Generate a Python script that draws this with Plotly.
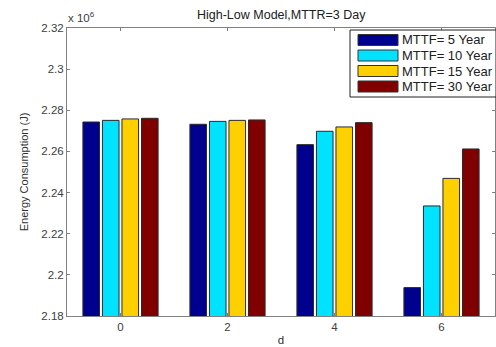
import plotly.graph_objects as go

categories = [0, 2, 4, 6]
series_names = ["MTTF= 5 Year", "MTTF= 10 Year", "MTTF= 15 Year", "MTTF= 30 Year"]
mttf5 = [2.2743, 2.2732, 2.2633, 2.1938]
mttf10 = [2.2751, 2.2746, 2.2698, 2.2335]
mttf15 = [2.2758, 2.2751, 2.2719, 2.2469]
mttf30 = [2.2761, 2.2753, 2.2740, 2.2612]
series_values = [mttf5, mttf10, mttf15, mttf30]
colors = ["#00008F", "#00E2FF", "#FFD000", "#800000"]
y_ticks = [2.18, 2.2, 2.22, 2.24, 2.26, 2.28, 2.3, 2.32]
y_ticktext = ["2.18", "2.2", "2.22", "2.24", "2.26", "2.28", "2.3", "2.32"]
x_ticks = [0, 2, 4, 6]

W, H = 496, 347
L, R, T, B = 67, 1, 28, 31
pw, ph = W - L - R, H - T - B

def px_x(p):
    return (p - L) / pw

def px_y(p):
    return (H - B - p) / ph

fig = go.Figure()
for name, vals, col in zip(series_names, series_values, colors):
    fig.add_trace(go.Bar(
        x=categories, y=vals, name=name,
        marker=dict(color=col, line=dict(color="#2a2a2a", width=1)),
        showlegend=False,
    ))

font = "Liberation Sans, Arial, sans-serif"
axis_common = dict(
    showline=True, linecolor="#808080", linewidth=1, mirror="ticks",
    ticks="inside", ticklen=3, tickcolor="#808080", showgrid=False,
    zeroline=False, tickfont=dict(family=font, size=11.5, color="#404040"),
)

fig.update_layout(
    width=W, height=H,
    margin=dict(l=L, r=R, t=T, b=B),
    paper_bgcolor="white", plot_bgcolor="white",
    barmode="group", bargap=0.27, bargroupgap=0.15,
    font=dict(family=font, size=11, color="#202020"),
    xaxis=dict(range=[-1, 7], tickvals=x_ticks, ticktext=[str(v) for v in x_ticks],
               title=dict(text="d", font=dict(size=11.5, color="#303030"), standoff=4),
               **axis_common),
    yaxis=dict(range=[2.18, 2.32], tickvals=y_ticks, ticktext=y_ticktext,
               title=dict(text="Energy Consumption (J)", font=dict(size=11, color="#303030"), standoff=10),
               **axis_common),
    showlegend=False,
)

# title
fig.add_annotation(text="High-Low Model,MTTR=3 Day", xref="paper", yref="paper",
                   x=0.5, y=px_y(15), xanchor="center", yanchor="middle", showarrow=False,
                   font=dict(family=font, size=12.5, color="#202020"))
# exponent label
fig.add_annotation(text="x 10<sup>6</sup>", xref="paper", yref="paper",
                   x=px_x(66), y=px_y(17), xanchor="left", yanchor="middle", showarrow=False,
                   font=dict(family=font, size=11.5, color="#404040"))

# custom legend
shapes = [dict(type="rect", xref="paper", yref="paper",
               x0=px_x(350), x1=px_x(496), y0=px_y(97), y1=px_y(30),
               line=dict(color="#202020", width=1), fillcolor="white", layer="above")]
row_centers = [40, 55.5, 71, 86.5]
for name, col, cy in zip(series_names, colors, row_centers):
    shapes.append(dict(type="rect", xref="paper", yref="paper",
                       x0=px_x(358), x1=px_x(398), y0=px_y(cy + 5.5), y1=px_y(cy - 5.5),
                       line=dict(color="#333333", width=1), fillcolor=col, layer="above"))
    fig.add_annotation(text=name, xref="paper", yref="paper",
                       x=px_x(400), y=px_y(cy), xanchor="left", yanchor="middle",
                       showarrow=False, font=dict(family=font, size=13, color="#202020"))
fig.update_layout(shapes=shapes)

fig.write_html("out.html")
